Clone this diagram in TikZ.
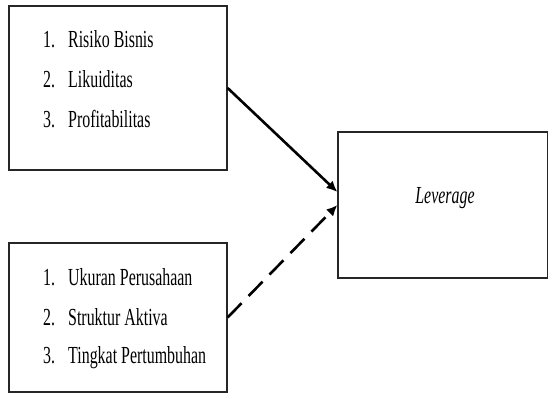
\documentclass[tikz,border=0pt]{standalone}
\usepackage{fontspec}
\setmainfont[FakeStretch=0.65]{Liberation Serif}
\usetikzlibrary{arrows.meta}

\begin{document}
\begin{tikzpicture}[x = 1pt, y = -1pt, > = {Latex[length = 11pt, width = 10pt]},
	font = \fontsize{24.5}{28}\selectfont,
	box/.style = {draw = black!85, line width = 1.2pt, inner sep = 0pt},
	link/.style = {->, line width = 2.6pt}]

	\useasboundingbox (0, 0) rectangle (549, 394);

	% The three boxes

	\node [box, minimum width = 218pt, minimum height = 164pt] (fin) at (118, 88) {};
	\node [box, minimum width = 218pt, minimum height = 149pt] (ext) at (118, 317.5) {};
	\node [box, minimum width = 209.5pt, minimum height = 146pt] (lev) at (442.75, 205) {};

	% Variables in the left boxes

	\foreach \i/\y/\name in {1/47/Risiko Bisnis, 2/87/Likuiditas, 3/127/Profitabilitas}
		\node [anchor = base west, inner sep = 0pt] (fin\i) at (43, \y) {\makebox[25pt][l]{\i.}\name};

	\foreach \i/\y/\name in {1/285/Ukuran Perusahaan, 2/325/Struktur Aktiva, 3/363/Tingkat Pertumbuhan}
		\node [anchor = base west, inner sep = 0pt] (ext\i) at (43, \y) {\makebox[25pt][l]{\i.}\name};

	% Dependent variable

	\node [anchor = base, inner sep = 0pt] (levname) at (445, 203) {\textit{Leverage}};

	% Arrows into Leverage

	\draw [link] (fin.east) -- ([yshift = 13pt] lev.west);
	\draw [link, dash pattern = on 20pt off 10pt] (ext.east) -- (lev.west);

\end{tikzpicture}
\end{document}
